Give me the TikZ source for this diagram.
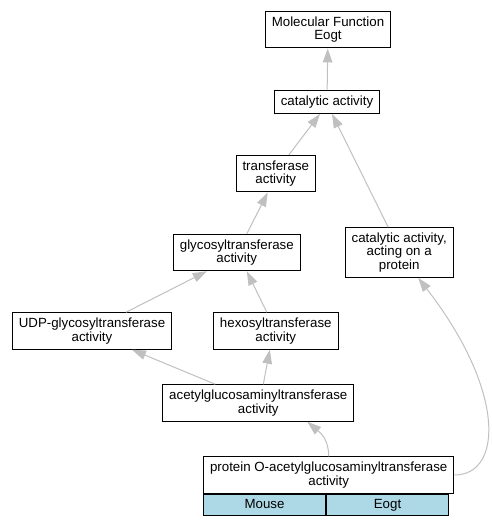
\documentclass[tikz,border=0pt]{standalone}
\usepackage{fontspec}
\setmainfont{Liberation Sans}
\usepackage{xcolor}
\usepackage{tikz}
\usetikzlibrary{arrows.meta}

\definecolor{edgegray}{HTML}{C0C0C0}
\definecolor{cellblue}{HTML}{ADD8E6}
\newcommand{\gofont}{\fontsize{13.3}{13.3}\selectfont}

\begin{document}
\begin{tikzpicture}[x=1pt, y=-1pt,
        term/.style={draw, line width=1pt, font=\gofont, align=center, inner xsep=6.5pt, inner ysep=0pt, rows=1},
        rows/.style={minimum height=#1*13.2pt+10.1pt},
        cell/.style={term, fill=cellblue, minimum width=122pt, minimum height=21pt, text height=10pt, text depth=3pt},
        isa/.style={draw=edgegray, line width=1pt, -{Triangle[length=14pt,width=9.5pt]}}]
        \useasboundingbox (0,0) rectangle (492,525);

        \node[term, rows=2] (mf) at (328,29.7) {Molecular Function\\Eogt};
        \node[term] (cat) at (327,101.7) {catalytic activity};
        \node[term, rows=2] (trans) at (275.8,173.7) {transferase\\activity};
        \node[term, rows=2] (glyco) at (236.8,252.5) {glycosyltransferase\\activity};
        \node[term, rows=3] (catprot) at (399.2,252.5) {catalytic activity,\\acting on a\\protein};
        \node[term, rows=2] (udp) at (92,331) {UDP-glycosyltransferase\\activity};
        \node[term, rows=2] (hexo) at (275.8,331) {hexosyltransferase\\activity};
        \node[term, rows=2] (acetyl) at (258.3,403) {acetylglucosaminyltransferase\\activity};
        \node[term, rows=2, minimum width=244pt] (prot) at (328.7,475) {protein O-acetylglucosaminyltransferase\\activity};
        \node[cell, anchor=north west] (mouse) at (prot.south west) {Mouse};
        \node[cell, anchor=north west] (eogt) at (mouse.north east) {Eogt};

        \draw[isa] (cat) -- (mf);
        \draw[isa] ([xshift=13pt]trans.north) -- ([xshift=-7pt]cat.south);
        \draw[isa] ([xshift=-11pt]catprot.north) -- ([xshift=5pt]cat.south);
        \draw[isa] ([xshift=10pt]glyco.north) -- ([xshift=-8pt]trans.south);
        \draw[isa] ([xshift=34pt]udp.north) -- ([xshift=-30pt]glyco.south);
        \draw[isa] ([xshift=-9pt]hexo.north) -- ([xshift=10pt]glyco.south);
        \draw[isa] ([xshift=-43pt]acetyl.north) -- ([xshift=40pt]udp.south);
        \draw[isa] ([xshift=5pt]acetyl.north) -- ([xshift=-6pt]hexo.south);
        \draw[isa] (prot.north) .. controls +(0,-17) and +(13,11) .. ([xshift=49pt]acetyl.south);
        \draw[isa] (prot.east) .. controls +(49,0) and +(87,112) .. ([xshift=19pt]catprot.south);
    \end{tikzpicture}
\end{document}
